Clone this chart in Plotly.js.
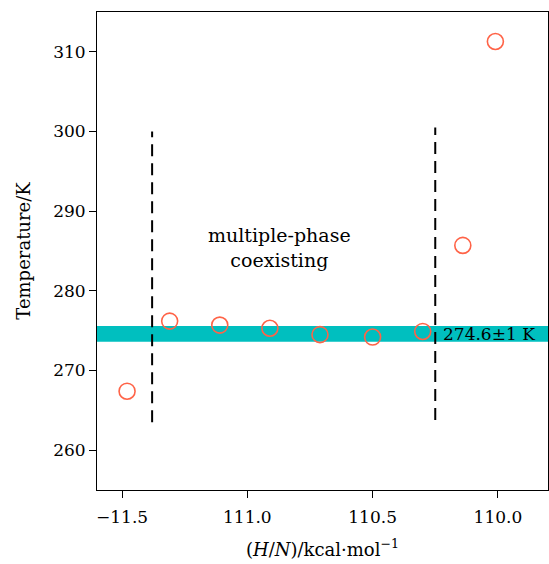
<!DOCTYPE html>
<html>
<head>
<meta charset="utf-8">
<script src="https://cdn.plot.ly/plotly-3.0.1.min.js"></script>
<style>html,body{margin:0;padding:0;background:#fff;}#chart{width:549px;height:564px;}</style>
</head>
<body>
<div id="chart"></div>
<script>
// Data
const energy = [-111.48, -111.31, -111.11, -110.91, -110.71, -110.50, -110.30, -110.14, -110.01];
const temperature = [267.4, 276.2, 275.7, 275.3, 274.5, 274.2, 274.9, 285.7, 311.3];

const leftBoundX = [-111.38, -111.38];
const leftBoundY = [263.5, 300.0];
const rightBoundX = [-110.25, -110.25];
const rightBoundY = [263.8, 300.5];

const meltCenter = 274.6;
const meltHalfWidth = 1.0;

const xTickVals = [-111.5, -111.0, -110.5, -110.0];
const xTickText = ["\u221211.5", "111.0", "110.5", "110.0"];
const yTickVals = [260, 270, 280, 290, 300, 310];

const font = "DejaVu Serif, serif";

const traces = [
  {x: leftBoundX, y: leftBoundY, mode: "lines", line: {color: "black", width: 2, dash: "12px,7px"}, hoverinfo: "skip", showlegend: false},
  {x: rightBoundX, y: rightBoundY, mode: "lines", line: {color: "black", width: 2, dash: "12px,7px"}, hoverinfo: "skip", showlegend: false},
  {x: energy, y: temperature, mode: "markers", showlegend: false,
   marker: {symbol: "circle-open", size: 16, color: "#ff6347", line: {width: 1.6, color: "#ff6347"}}}
];

const layout = {
  width: 549, height: 564,
  margin: {l: 97, r: 1, t: 12, b: 74},
  paper_bgcolor: "white", plot_bgcolor: "white",
  font: {family: font, size: 17, color: "black"},
  showlegend: false,
  xaxis: {
    range: [-111.6, -109.8], tickvals: xTickVals, ticktext: xTickText,
    ticks: "outside", ticklen: 7, tickwidth: 1, tickcolor: "black", ticklabelstandoff: 5,
    showgrid: false, zeroline: false, showline: true, linecolor: "black", linewidth: 1, mirror: true,
    tickfont: {family: font, size: 17},
    title: {text: "(<i>H</i>/<i>N</i>)/kcal\u00b7mol<sup>\u22121</sup>", font: {family: font, size: 18}, standoff: 16}
  },
  yaxis: {
    range: [255, 315], tickvals: yTickVals,
    ticks: "outside", ticklen: 7, tickwidth: 1, tickcolor: "black",
    showgrid: false, zeroline: false, showline: true, linecolor: "black", linewidth: 1, mirror: true,
    tickfont: {family: font, size: 17},
    title: {text: "Temperature/K", font: {family: font, size: 18}, standoff: 17}
  },
  shapes: [
    {type: "rect", xref: "paper", yref: "y", x0: 0, x1: 1,
     y0: meltCenter - meltHalfWidth, y1: meltCenter + meltHalfWidth,
     fillcolor: "#00bfbf", line: {width: 0}, layer: "below"}
  ],
  annotations: [
    {x: -110.87, y: 285.4, xref: "x", yref: "y", text: "multiple-phase<br>coexisting",
     showarrow: false, font: {family: font, size: 19}, align: "center"},
    {x: 0.762, y: meltCenter, xref: "paper", yref: "y", xanchor: "left", yanchor: "middle",
     text: meltCenter.toFixed(1) + "\u00b1" + meltHalfWidth.toFixed(0) + " K",
     showarrow: false, font: {family: font, size: 17}}
  ]
};

Plotly.newPlot("chart", traces, layout, {displayModeBar: false, staticPlot: true});
</script>
</body>
</html>
